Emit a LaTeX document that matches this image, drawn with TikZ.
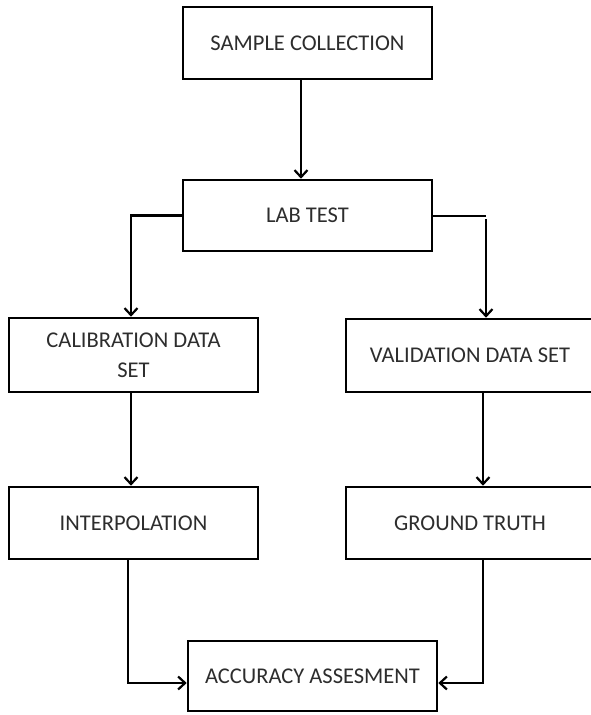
\documentclass[tikz,border=0pt]{standalone}
\usepackage{fontspec}
\setmainfont{Carlito}
\usetikzlibrary{arrows.meta}
\definecolor{txt}{RGB}{45,45,45}
\tikzset{
  box/.style={draw=black, line width=2.6pt, fill=white, minimum width=249pt, minimum height=72pt,
    inner sep=0pt, align=center, text=txt, font=\fontsize{22.5}{30}\selectfont},
  conn/.style={line width=2.6pt},
  arr/.style={conn, -{Straight Barb[length=7pt,width=13pt,line width=2.2pt]}}
}
\begin{document}
\begin{tikzpicture}[x=1pt,y=-1pt]
\useasboundingbox (0,0) rectangle (590,715);
\node[box] (sc) at (307.5,43) {SAMPLE COLLECTION};
\node[box, minimum height=71pt] (lt) at (307.5,215.5) {LAB TEST};
\node[box, minimum height=74pt] (cal) at (133.5,355) {CALIBRATION DATA\\SET};
\node[box, minimum width=248pt, minimum height=73pt] (val) at (470,355.5) {VALIDATION DATA SET};
\node[box] (int) at (133.5,523) {INTERPOLATION};
\node[box, minimum width=248pt] (gt) at (470,523) {GROUND TRUTH};
\node[box, minimum height=70pt] (acc) at (312.5,676) {ACCURACY ASSESMENT};
\coordinate (a1) at (301,0);
\coordinate (lx) at (131,0);
\coordinate (rx) at (486,216);
\coordinate (rx2) at (483,0);
\coordinate (ix) at (128,683);
\coordinate (gx) at (483,683);
\draw[arr] (sc.south -| a1) -- (lt.north -| a1);
\draw[arr] (lt.west) -| (cal.north -| lx);
\draw[conn] (lt.east |- rx) -- (rx);
\draw[arr] ([yshift=-3pt]rx) -- (val.north -| rx);
\draw[arr] (cal.south -| lx) -- (int.north -| lx);
\draw[arr] (val.south -| rx2) -- (gt.north -| rx2);
\draw[arr] (int.south -| ix) -- (ix) -- (acc.west |- ix);
\draw[arr] (gt.south -| gx) -- (gx) -- (acc.east |- gx);
\end{tikzpicture}
\end{document}
